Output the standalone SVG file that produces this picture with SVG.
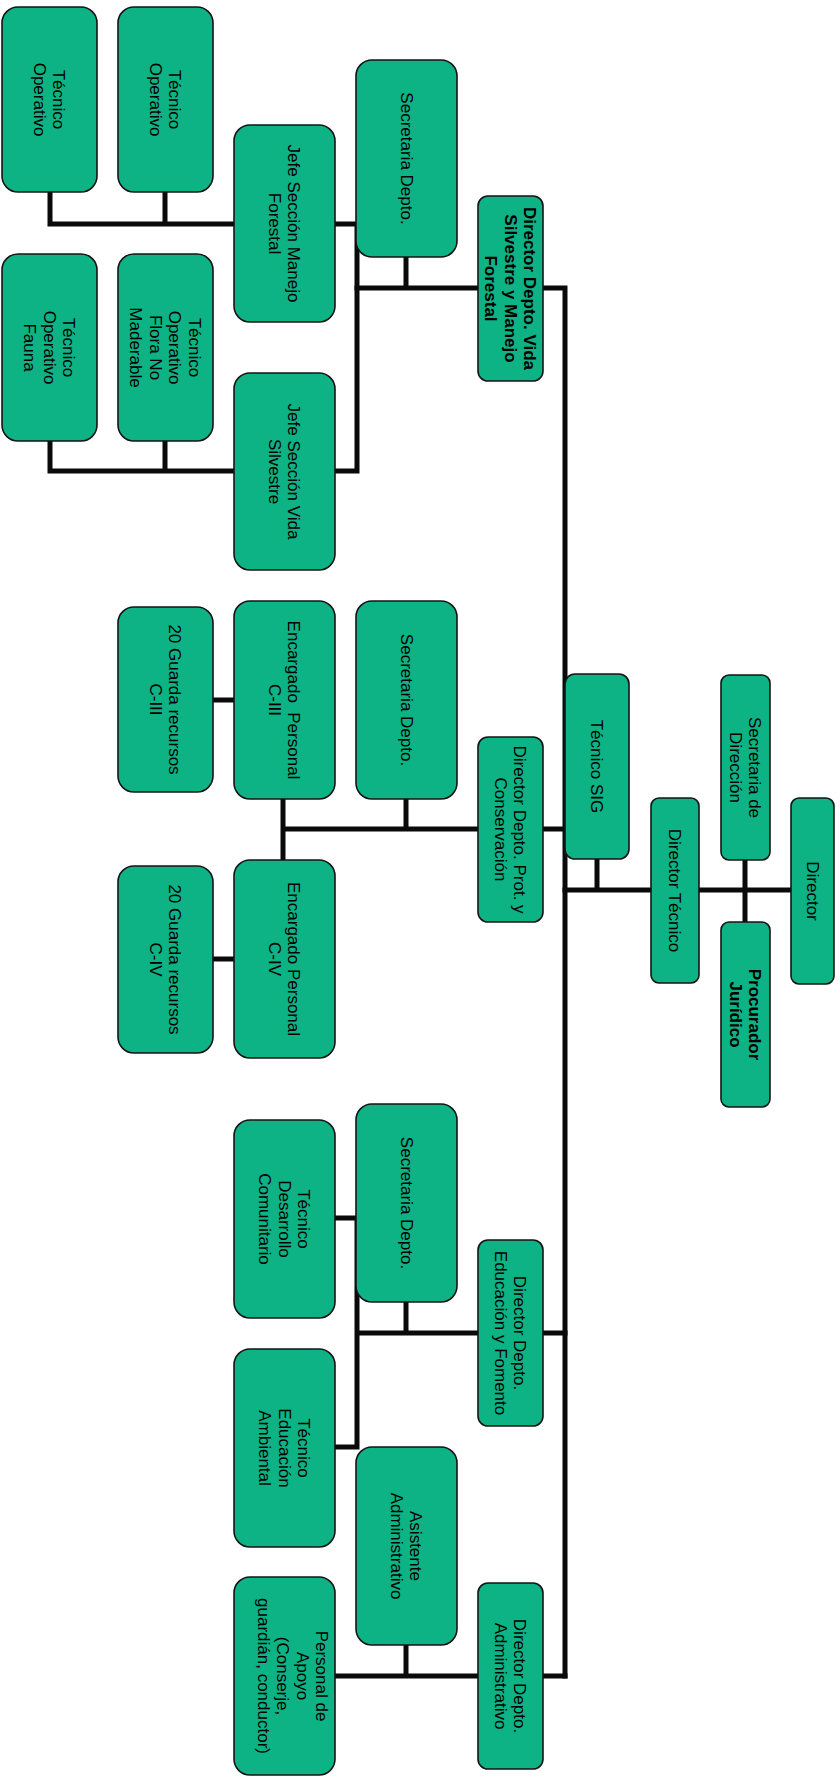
<svg xmlns="http://www.w3.org/2000/svg" width="840" height="1783" viewBox="0 0 840 1783">
<style>
.box{fill:#0db285;stroke:#141414;stroke-width:1.6}
.t{font-family:"Liberation Sans",Arial,sans-serif;font-size:17px;fill:#000;text-anchor:middle}
.b{font-weight:bold}
.c{fill:none;stroke:#0a0a0a;stroke-width:5;stroke-linecap:square;stroke-linejoin:miter}
</style>
<rect width="840" height="1783" fill="#fff"/>
<g id="connectors" class="c">
<path d="M50,192V224M165,192V224M50,224H357M357,224V471M50,441V471M165,441V471M50,471H357"/>
<path d="M357,288H565V1676M406,257V288"/>
<path d="M283,799V860M283,829H565M406,799V829M213,700H234M213,959H234"/>
<path d="M565,890H791M597,859V890M745,860V922"/>
<path d="M357,1218V1447M335,1218H357M335,1447H357M357,1333H565M406,1302V1333"/>
<path d="M335,1676H565M406,1645V1676"/>
</g>
<g id="n-to1"><rect class="box" x="2" y="7" width="95" height="185" rx="16"/><g transform="translate(49.5,99.5) rotate(90)"><text class="t"><tspan x="0" y="-3.75">Técnico</tspan><tspan x="0" y="15.75">Operativo</tspan></text></g></g>
<g id="n-to2"><rect class="box" x="118" y="7" width="95" height="185" rx="16"/><g transform="translate(165.5,99.5) rotate(90)"><text class="t"><tspan x="0" y="-3.75">Técnico</tspan><tspan x="0" y="15.75">Operativo</tspan></text></g></g>
<g id="n-jsmf"><rect class="box" x="234" y="125" width="101" height="197" rx="16"/><g transform="translate(284.5,223.5) rotate(90)"><text class="t"><tspan x="0" y="-3.75">Jefe Sección Manejo</tspan><tspan x="0" y="15.75">Forestal</tspan></text></g></g>
<g id="n-sec1"><rect class="box" x="356" y="60" width="101" height="197" rx="16"/><g transform="translate(406.5,158.5) rotate(90)"><text class="t"><tspan x="0" y="6">Secretaria Depto.</tspan></text></g></g>
<g id="n-dvs"><rect class="box" x="478" y="196" width="65" height="185" rx="10"/><g transform="translate(510.5,288.5) rotate(90)"><text class="t b"><tspan x="0" y="-13.5">Director Depto. Vida</tspan><tspan x="0" y="6">Silvestre y Manejo</tspan><tspan x="0" y="25.5">Forestal</tspan></text></g></g>
<g id="n-tof"><rect class="box" x="2" y="254" width="95" height="187" rx="16"/><g transform="translate(49.5,347.5) rotate(90)"><text class="t"><tspan x="0" y="-13.5">Técnico</tspan><tspan x="0" y="6">Operativo</tspan><tspan x="0" y="25.5">Fauna</tspan></text></g></g>
<g id="n-tofnm"><rect class="box" x="118" y="254" width="95" height="187" rx="16"/><g transform="translate(165.5,347.5) rotate(90)"><text class="t"><tspan x="0" y="-23.25">Técnico</tspan><tspan x="0" y="-3.75">Operativo</tspan><tspan x="0" y="15.75">Flora No</tspan><tspan x="0" y="35.25">Maderable</tspan></text></g></g>
<g id="n-jsvs"><rect class="box" x="234" y="373" width="101" height="197" rx="16"/><g transform="translate(284.5,471.5) rotate(90)"><text class="t"><tspan x="0" y="-3.75">Jefe Sección Vida</tspan><tspan x="0" y="15.75">Silvestre</tspan></text></g></g>
<g id="n-g3"><rect class="box" x="118" y="607" width="95" height="185" rx="16"/><g transform="translate(165.5,699.5) rotate(90)"><text class="t"><tspan x="0" y="-3.75">20 Guarda recursos</tspan><tspan x="0" y="15.75">C-III</tspan></text></g></g>
<g id="n-ep3"><rect class="box" x="234" y="601" width="101" height="198" rx="16"/><g transform="translate(284.5,700) rotate(90)"><text class="t" xml:space="preserve"><tspan x="0" y="-3.75">Encargado  Personal</tspan><tspan x="0" y="15.75">C-III</tspan></text></g></g>
<g id="n-sec2"><rect class="box" x="356" y="601" width="101" height="198" rx="16"/><g transform="translate(406.5,700) rotate(90)"><text class="t"><tspan x="0" y="6">Secretaria Depto.</tspan></text></g></g>
<g id="n-dpc"><rect class="box" x="478" y="737" width="65" height="185" rx="10"/><g transform="translate(510.5,829.5) rotate(90)"><text class="t"><tspan x="0" y="-3.75">Director Depto. Prot. y</tspan><tspan x="0" y="15.75">Conservación</tspan></text></g></g>
<g id="n-ep4"><rect class="box" x="234" y="860" width="101" height="198" rx="16"/><g transform="translate(284.5,959) rotate(90)"><text class="t"><tspan x="0" y="-3.75">Encargado Personal</tspan><tspan x="0" y="15.75">C-IV</tspan></text></g></g>
<g id="n-g4"><rect class="box" x="118" y="866" width="95" height="187" rx="16"/><g transform="translate(165.5,959.5) rotate(90)"><text class="t"><tspan x="0" y="-3.75">20 Guarda recursos</tspan><tspan x="0" y="15.75">C-IV</tspan></text></g></g>
<g id="n-sig"><rect class="box" x="565" y="674" width="64" height="185" rx="10"/><g transform="translate(597,766.5) rotate(90)"><text class="t"><tspan x="0" y="6">Técnico SIG</tspan></text></g></g>
<g id="n-dt"><rect class="box" x="651" y="798" width="48" height="185" rx="8"/><g transform="translate(675,890.5) rotate(90)"><text class="t"><tspan x="0" y="6">Director Técnico</tspan></text></g></g>
<g id="n-sd"><rect class="box" x="721" y="675" width="49" height="185" rx="8"/><g transform="translate(745.5,767.5) rotate(90)"><text class="t"><tspan x="0" y="-3.75">Secretaria de</tspan><tspan x="0" y="15.75">Dirección</tspan></text></g></g>
<g id="n-pj"><rect class="box" x="721" y="922" width="49" height="185" rx="8"/><g transform="translate(745.5,1014.5) rotate(90)"><text class="t b"><tspan x="0" y="-3.75">Procurador</tspan><tspan x="0" y="15.75">Jurídico</tspan></text></g></g>
<g id="n-dir"><rect class="box" x="791" y="798" width="43" height="186" rx="8"/><g transform="translate(812.5,891) rotate(90)"><text class="t"><tspan x="0" y="6">Director</tspan></text></g></g>
<g id="n-tdc"><rect class="box" x="234" y="1120" width="101" height="198" rx="16"/><g transform="translate(284.5,1219) rotate(90)"><text class="t"><tspan x="0" y="-13.5">Técnico</tspan><tspan x="0" y="6">Desarrollo</tspan><tspan x="0" y="25.5">Comunitario</tspan></text></g></g>
<g id="n-sec3"><rect class="box" x="356" y="1104" width="101" height="198" rx="16"/><g transform="translate(406.5,1203) rotate(90)"><text class="t"><tspan x="0" y="6">Secretaria Depto.</tspan></text></g></g>
<g id="n-def"><rect class="box" x="478" y="1240" width="65" height="186" rx="10"/><g transform="translate(510.5,1333) rotate(90)"><text class="t"><tspan x="0" y="-3.75">Director Depto.</tspan><tspan x="0" y="15.75">Educación y Fomento</tspan></text></g></g>
<g id="n-tea"><rect class="box" x="234" y="1349" width="101" height="198" rx="16"/><g transform="translate(284.5,1448) rotate(90)"><text class="t"><tspan x="0" y="-13.5">Técnico</tspan><tspan x="0" y="6">Educación</tspan><tspan x="0" y="25.5">Ambiental</tspan></text></g></g>
<g id="n-aa"><rect class="box" x="356" y="1447" width="101" height="198" rx="16"/><g transform="translate(406.5,1546) rotate(90)"><text class="t"><tspan x="0" y="-3.75">Asistente</tspan><tspan x="0" y="15.75">Administrativo</tspan></text></g></g>
<g id="n-pa"><rect class="box" x="234" y="1577" width="101" height="198" rx="16"/><g transform="translate(284.5,1676) rotate(90)"><text class="t"><tspan x="0" y="-31.75">Personal de</tspan><tspan x="0" y="-12.25">Apoyo</tspan><tspan x="0" y="7.25">(Conserje,</tspan><tspan x="0" y="26.75">guardián, conductor)</tspan></text></g></g>
<g id="n-da"><rect class="box" x="478" y="1583" width="65" height="186" rx="10"/><g transform="translate(510.5,1676) rotate(90)"><text class="t"><tspan x="0" y="-3.75">Director Depto.</tspan><tspan x="0" y="15.75">Administrativo</tspan></text></g></g>
</svg>
